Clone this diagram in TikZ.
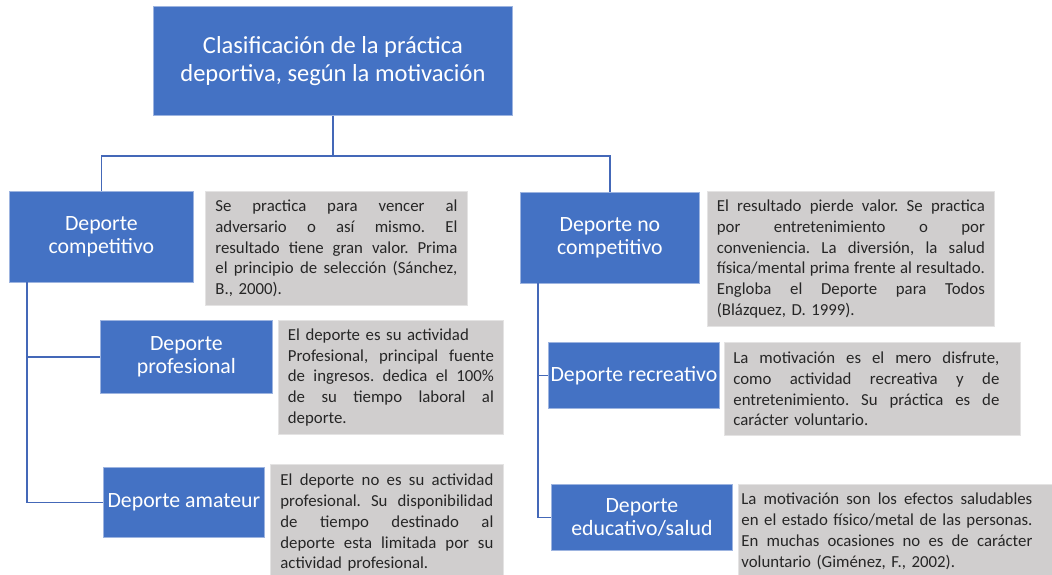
\documentclass[tikz,border=0pt]{standalone}
\usepackage{fontspec}
\setmainfont{Carlito}
\definecolor{bblue}{HTML}{4472C4}
\definecolor{bedge}{HTML}{9DB4E0}
\definecolor{gfill}{HTML}{D0CECE}
\definecolor{gedge}{HTML}{E4E3E3}
\definecolor{lineblue}{HTML}{4468B8}
\newcommand{\jl}[2]{\leavevmode\hbox to #1pt{\spaceskip=0.22em plus 1fil minus 0.12em\relax #2}\\}
\begin{document}
\begin{tikzpicture}[x=1pt,y=-1pt,
  bluebox/.style={draw=bedge,line width=0.8pt,fill=bblue,text=white,anchor=north west,
    font=\fontsize{21.8}{23.5}\selectfont,align=center,inner sep=0pt},
  descbox/.style={draw=gedge,line width=0.8pt,fill=gfill,text=black!85,anchor=north west,
    font=\fontsize{16.8}{20.75}\selectfont\frenchspacing,align=left,inner ysep=0pt},
  conn/.style={draw=lineblue,line width=1.2pt}]
\useasboundingbox (0,0) rectangle (1052,575);
% root
\node[bluebox,minimum width=359pt,minimum height=109pt,font=\fontsize{24.5}{28}\selectfont] (root) at (153,6)
  {Clasificación de la práctica\\deportiva, según la motivación};
% left branch
\node[bluebox,minimum width=184pt,minimum height=91pt] (comp) at (9,191) {Deporte\\competitivo};
\node[descbox,minimum width=262pt,minimum height=114pt,text width=242pt,inner xsep=10pt] (compd) at (205,191)
  {\jl{242}{Se practica para vencer al}\jl{242}{adversario o así mismo. El}\jl{242}{resultado tiene gran valor. Prima}\jl{242}{el principio de selección (Sánchez,}B., 2000).};
\node[bluebox,minimum width=172pt,minimum height=73pt] (prof) at (100,320) {Deporte\\profesional};
\node[descbox,minimum width=225pt,minimum height=114pt,text width=206pt,inner xsep=9.5pt] (profd) at (278,320)
  {El deporte es su actividad\\\jl{206}{Profesional, principal fuente}\jl{206}{de ingresos. dedica el 100\%}\jl{206}{de su tiempo laboral al}deporte.};
\node[bluebox,minimum width=161pt,minimum height=70pt] (amat) at (103,467) {Deporte amateur};
\node[descbox,minimum width=233pt,minimum height=117pt,text width=213pt,inner xsep=10pt] (amatd) at (270,464)
  {\jl{213}{El deporte no es su actividad}\jl{213}{profesional. Su disponibilidad}\jl{213}{de tiempo destinado al}\jl{213}{deporte esta limitada por su}actividad profesional.};
% right branch
\node[bluebox,minimum width=179pt,minimum height=91pt] (nocomp) at (520,192) {Deporte no\\competitivo};
\node[descbox,minimum width=287pt,minimum height=135pt,text width=268pt,inner xsep=9.5pt] (nocompd) at (707,191)
  {\jl{268}{El resultado pierde valor. Se practica}\jl{268}{por entretenimiento o por}\jl{268}{conveniencia. La diversión, la salud}\jl{268}{física/mental prima frente al resultado.}\jl{268}{Engloba el Deporte para Todos}(Blázquez, D. 1999).};
\node[bluebox,minimum width=171pt,minimum height=66pt] (rec) at (548,342) {Deporte recreativo};
\node[descbox,minimum width=296pt,minimum height=93pt,text width=278pt,inner xsep=9pt] (recd) at (724,342)
  {\jl{266}{La motivación es el mero disfrute,}\jl{266}{como actividad recreativa y de}\jl{266}{entretenimiento. Su práctica es de}carácter voluntario.};
\node[bluebox,minimum width=181pt,minimum height=66pt] (edu) at (551,484) {Deporte\\educativo/salud};
\node[descbox,minimum width=320pt,minimum height=94pt,text width=314pt,inner xsep=3pt] (edud) at (738,484)
  {\jl{291}{La motivación son los efectos saludables}\jl{291}{en el estado físico/metal de las personas.}\jl{291}{En muchas ocasiones no es de carácter}voluntario (Giménez, F., 2002).};
% connectors
\coordinate (bus) at (332,156);
\coordinate (lt) at (27,282);
\coordinate (rt) at (538,283);
\draw[conn] (root.south) -- (root.south |- bus) -| (comp.north);
\draw[conn] (root.south |- bus) -| (nocomp.north);
\draw[conn] (lt) |- (prof.west);
\draw[conn] (lt) |- (amat.west);
\draw[conn] (rt) |- (rec.west);
\draw[conn] (rt) |- (edu.west);
\end{tikzpicture}
\end{document}
